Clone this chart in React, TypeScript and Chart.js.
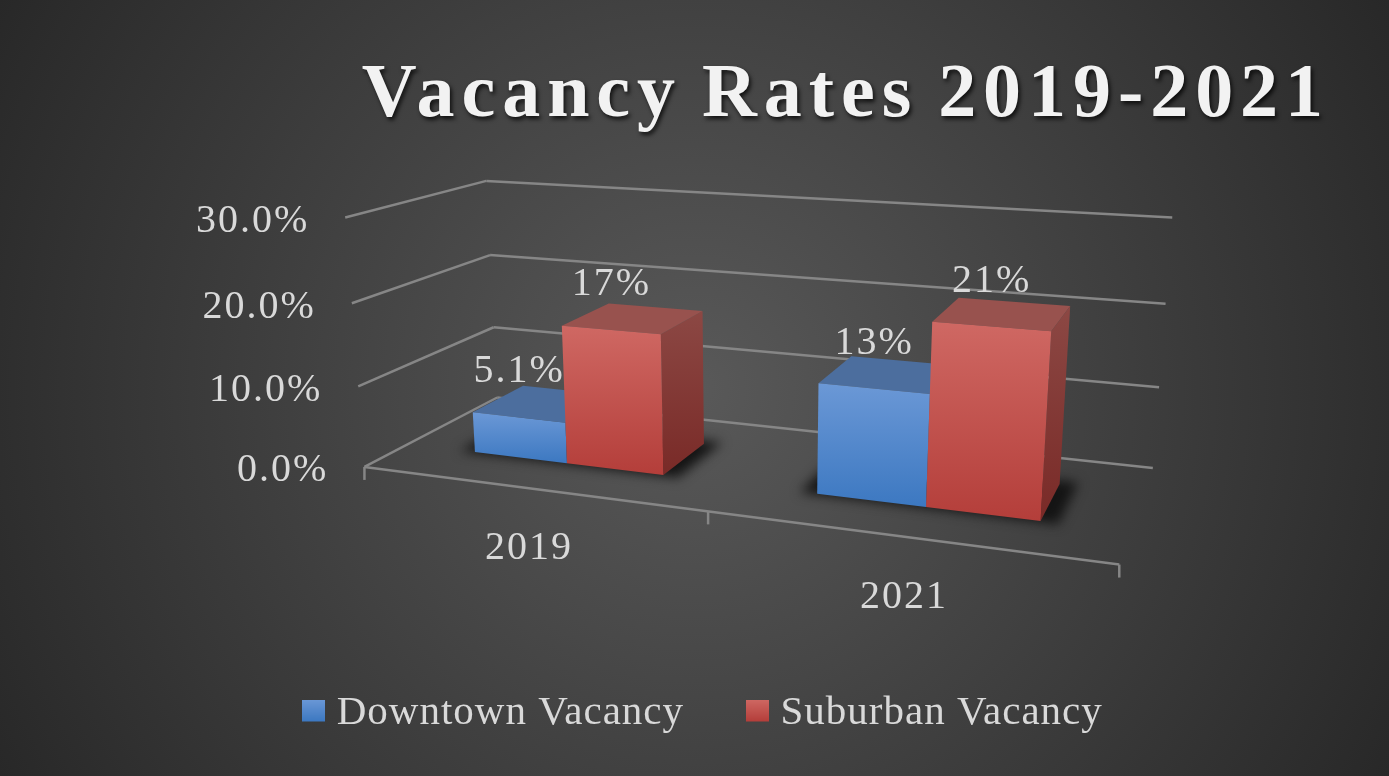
import React, { useEffect, useRef } from "react";
import { Chart, registerables } from "chart.js";

Chart.register(...registerables);

const TITLE = "Vacancy Rates 2019-2021";
const categories = ["2019", "2021"];
const seriesNames = ["Downtown Vacancy", "Suburban Vacancy"];
const downtownValues = [5.1, 13];
const suburbanValues = [17, 21];
const yMin = 0;
const yMax = 30;
const yStep = 10;

// camera calibration: where the plot box corners (u, v, depth) land on the page
const CAMERA: number[][] = [
  [0, 0, 0, 366, 467], [0, 1 / 3, 0, 357, 386], [0, 2 / 3, 0, 352, 303], [0, 1, 0, 345, 217],
  [0, 0, 1, 497, 397], [0, 1 / 3, 1, 493, 327], [0, 2 / 3, 1, 490, 256], [0, 1, 1, 487, 181],
  [1, 0, 1, 1153, 468], [1, 1 / 3, 1, 1159, 387], [1, 2 / 3, 1, 1166, 303], [1, 1, 1, 1172, 218],
  [1, 0, 0, 1119, 564], [0.5, 0, 0, 708, 513],
];
const BAR_FRONT = 0.3;
const BAR_BACK = 0.7;

function solve(A: number[][], b: number[]) {
  const n = b.length;
  const M = A.map((r, i) => [...r, b[i]]);
  for (let i = 0; i < n; i++) {
    let p = i;
    for (let r = i + 1; r < n; r++) if (Math.abs(M[r][i]) > Math.abs(M[p][i])) p = r;
    [M[i], M[p]] = [M[p], M[i]];
    for (let r = 0; r < n; r++) {
      if (r === i) continue;
      const f = M[r][i] / M[i][i];
      for (let c = i; c <= n; c++) M[r][c] -= f * M[i][c];
    }
  }
  return M.map((r, i) => r[n] / r[i]);
}

function fitCamera() {
  const rows: number[][] = [];
  const rhs: number[] = [];
  for (const [u, v, d, px, py] of CAMERA) {
    const x = px / 1000;
    const y = py / 1000;
    rows.push([1, u, v, d, 0, 0, 0, 0, -x * u, -x * v, -x * d]);
    rhs.push(x);
    rows.push([0, 0, 0, 0, 1, u, v, d, -y * u, -y * v, -y * d]);
    rhs.push(y);
  }
  const n = 11;
  const A = Array.from({ length: n }, (_, i) =>
    Array.from({ length: n }, (_, j) => rows.reduce((s, r) => s + r[i] * r[j], 0))
  );
  const b = Array.from({ length: n }, (_, i) => rows.reduce((s, r, k) => s + r[i] * rhs[k], 0));
  return solve(A, b);
}
const P = fitCamera();
function project(u: number, v: number, d: number): [number, number] {
  const w = 1 + P[8] * u + P[9] * v + P[10] * d;
  return [
    (1000 * (P[0] + P[1] * u + P[2] * v + P[3] * d)) / w,
    (1000 * (P[4] + P[5] * u + P[6] * v + P[7] * d)) / w,
  ];
}

const SERIF = "'Liberation Serif', serif";
const LABEL_FONT = `40px ${SERIF}`;
const TEXT = "#d9d9d9";
const LINE = "#868686";

const palette = [
  { top: "#6b98d6", bottom: "#3c78c1", lid: "#4c6e9e", sideTop: "#4c6e9e", sideBottom: "#2f5c96" },
  { top: "#cf6863", bottom: "#b43e3a", lid: "#98524e", sideTop: "#8c4844", sideBottom: "#792a27" },
];

function legendSwatch(top: string, bottom: string) {
  const c = document.createElement("canvas");
  c.width = 23;
  c.height = 28;
  const g = c.getContext("2d")!;
  const grad = g.createLinearGradient(0, 0, 0, 22);
  grad.addColorStop(0, top);
  grad.addColorStop(1, bottom);
  g.fillStyle = grad;
  g.fillRect(0, 0, 23, 22);
  return c;
}

function poly(ctx: CanvasRenderingContext2D, pts: [number, number][], fill: any) {
  ctx.beginPath();
  pts.forEach((p, i) => (i ? ctx.lineTo(p[0], p[1]) : ctx.moveTo(p[0], p[1])));
  ctx.closePath();
  ctx.fillStyle = fill;
  ctx.fill();
}

function seg(ctx: CanvasRenderingContext2D, a: [number, number], b: [number, number]) {
  ctx.beginPath();
  ctx.moveTo(a[0], a[1]);
  ctx.lineTo(b[0], b[1]);
  ctx.stroke();
}

const scene3d = {
  id: "scene3d",
  beforeUpdate(chart: any) {
    chart.ctx.letterSpacing = "1px";
  },
  beforeDraw(chart: any) {
    const { ctx, width, height } = chart;
    ctx.save();
    const cx = width / 2;
    const cy = height / 2;
    const grad = ctx.createRadialGradient(cx, cy, 0, cx, cy, Math.hypot(cx, cy));
    grad.addColorStop(0, "#595959");
    grad.addColorStop(1, "#282828");
    ctx.fillStyle = grad;
    ctx.fillRect(0, 0, width, height);
    ctx.restore();
    const tb = chart.titleBlock;
    if (tb && !tb.__wrapped) {
      const orig = tb.draw;
      tb.draw = function (...args: any[]) {
        ctx.save();
        ctx.letterSpacing = "6.95px";
        ctx.wordSpacing = "-6px";
        ctx.shadowColor = "rgba(0,0,0,0.75)";
        ctx.shadowOffsetX = 2;
        ctx.shadowOffsetY = 3;
        ctx.shadowBlur = 4;
        orig.apply(this, args);
        ctx.restore();
      };
      tb.__wrapped = true;
    }
  },
  beforeDatasetsDraw(chart: any) {
    const { ctx, chartArea: area, scales } = chart;
    const yFrac = (px: number) => (area.bottom - px) / (area.bottom - area.top);
    const xFrac = (px: number) => (px - area.left) / (area.right - area.left);

    ctx.save();
    ctx.letterSpacing = "0px";
    ctx.strokeStyle = LINE;
    ctx.lineWidth = 2.5;
    ctx.lineCap = "butt";
    // walls
    for (const tick of scales.y.ticks) {
      const v = yFrac(scales.y.getPixelForValue(tick.value));
      seg(ctx, project(0, v, 0), project(0, v, 1));
      seg(ctx, project(0, v, 1), project(1, v, 1));
    }
    // floor front edge and its ticks at category borders
    seg(ctx, project(0, 0, 0), project(1, 0, 0));
    for (let i = 0; i <= categories.length; i++) {
      const p = project(i / categories.length, 0, 0);
      seg(ctx, p, [p[0], p[1] + 13]);
    }

    // wall labels
    ctx.letterSpacing = "2px";
    ctx.font = LABEL_FONT;
    ctx.fillStyle = TEXT;
    ctx.textAlign = "right";
    ctx.textBaseline = "middle";
    for (const tick of scales.y.ticks) {
      const v = yFrac(scales.y.getPixelForValue(tick.value));
      const p = project(0, v, 0);
      ctx.fillText(`${Number(tick.value).toFixed(1)}%`, p[0] - 36, p[1] + 4);
    }
    // category labels
    ctx.textAlign = "center";
    ctx.textBaseline = "alphabetic";
    categories.forEach((c, i) => {
      const u = xFrac(scales.x.getPixelForValue(i));
      const p = project(u, 0, 0);
      ctx.fillText(c, p[0], p[1] + 71);
    });
    ctx.letterSpacing = "0px";

    const m0 = chart.getDatasetMeta(0).data;
    const m1 = chart.getDatasetMeta(1).data;

    // contact shadows
    categories.forEach((_, i) => {
      const u0 = xFrac(m0[i].x - m0[i].width / 2) - 0.022;
      const u1 = xFrac(m1[i].x + m1[i].width / 2) + 0.022;
      const d0 = BAR_FRONT - 0.01;
      const d1 = BAR_BACK + 0.04;
      ctx.save();
      ctx.filter = "blur(6px)";
      poly(ctx, [project(u0, 0, d0), project(u1, 0, d0), project(u1, 0, d1), project(u0, 0, d1)], "#141414");
      ctx.restore();
    });

    // bars
    categories.forEach((_, i) => {
      [m0, m1].forEach((meta: any, s: number) => {
        const el = meta[i];
        const c = palette[s];
        const u0 = xFrac(el.x - el.width / 2);
        const u1 = xFrac(el.x + el.width / 2);
        const v = yFrac(el.y);
        const a = project(u0, 0, BAR_FRONT);
        const b = project(u1, 0, BAR_FRONT);
        const e = project(u1, v, BAR_FRONT);
        const f = project(u0, v, BAR_FRONT);
        const g = project(u1, 0, BAR_BACK);
        const h = project(u1, v, BAR_BACK);
        const k = project(u0, v, BAR_BACK);
        const sideGrad = ctx.createLinearGradient(0, h[1], 0, b[1]);
        sideGrad.addColorStop(0, c.sideTop);
        sideGrad.addColorStop(1, c.sideBottom);
        poly(ctx, [b, g, h, e], sideGrad);
        poly(ctx, [f, e, h, k], c.lid);
        const frontGrad = ctx.createLinearGradient(0, Math.min(f[1], e[1]), 0, Math.max(a[1], b[1]));
        frontGrad.addColorStop(0, c.top);
        frontGrad.addColorStop(1, c.bottom);
        poly(ctx, [a, b, e, f], frontGrad);
      });
    });
    ctx.restore();
  },
  beforeDatasetDraw() {
    return false;
  },
  afterDatasetsDraw(chart: any) {
    const { ctx, chartArea: area } = chart;
    const yFrac = (px: number) => (area.bottom - px) / (area.bottom - area.top);
    const xFrac = (px: number) => (px - area.left) / (area.right - area.left);
    ctx.save();
    ctx.letterSpacing = "2px";
    ctx.font = LABEL_FONT;
    ctx.fillStyle = TEXT;
    ctx.textAlign = "center";
    ctx.textBaseline = "alphabetic";
    chart.data.datasets.forEach((ds: any, s: number) => {
      chart.getDatasetMeta(s).data.forEach((el: any, i: number) => {
        const v = yFrac(el.y);
        const l = project(xFrac(el.x - el.width / 2), v, BAR_FRONT);
        const r = project(xFrac(el.x + el.width / 2), v, BAR_FRONT);
        ctx.fillText(`${ds.data[i]}%`, (l[0] + r[0]) / 2, (l[1] + r[1]) / 2 - 35);
      });
    });
    ctx.restore();
  },
};

export default function App() {
  const ref = useRef<HTMLCanvasElement>(null);
  useEffect(() => {
    document.body.style.margin = "0";
    const swatches = palette.map((c) => legendSwatch(c.top, c.bottom));
    const chart = new Chart(ref.current!, {
      type: "bar",
      data: {
        labels: categories,
        datasets: [
          { label: seriesNames[0], data: downtownValues, backgroundColor: palette[0].bottom, categoryPercentage: 0.571, barPercentage: 1 },
          { label: seriesNames[1], data: suburbanValues, backgroundColor: palette[1].bottom, categoryPercentage: 0.571, barPercentage: 1 },
        ],
      },
      options: {
        responsive: false,
        animation: false,
        events: [],
        layout: { padding: { left: 84, right: 59, top: 0, bottom: 32 } },
        scales: {
          x: { display: false },
          y: { display: false, min: yMin, max: yMax, ticks: { stepSize: yStep } },
        },
        plugins: {
          tooltip: { enabled: false },
          title: {
            display: true,
            text: TITLE,
            align: "end",
            color: "#f2f2f2",
            font: { family: SERIF, size: 76, weight: "bold" },
            padding: { top: 51, bottom: 10 },
          },
          legend: {
            display: true,
            position: "bottom",
            labels: {
              color: TEXT,
              font: { family: SERIF, size: 41 },
              usePointStyle: true,
              pointStyleWidth: 5,
              padding: 71,
              generateLabels: (c: any) =>
                c.data.datasets.map((ds: any, i: number) => ({
                  text: ds.label,
                  fontColor: TEXT,
                  pointStyle: swatches[i],
                  datasetIndex: i,
                  lineWidth: 0,
                })),
            },
          },
        },
      },
      plugins: [scene3d],
    } as any);
    return () => chart.destroy();
  }, []);
  return <canvas ref={ref} width={1389} height={776} style={{ display: "block", width: 1389, height: 776 }} />;
}
